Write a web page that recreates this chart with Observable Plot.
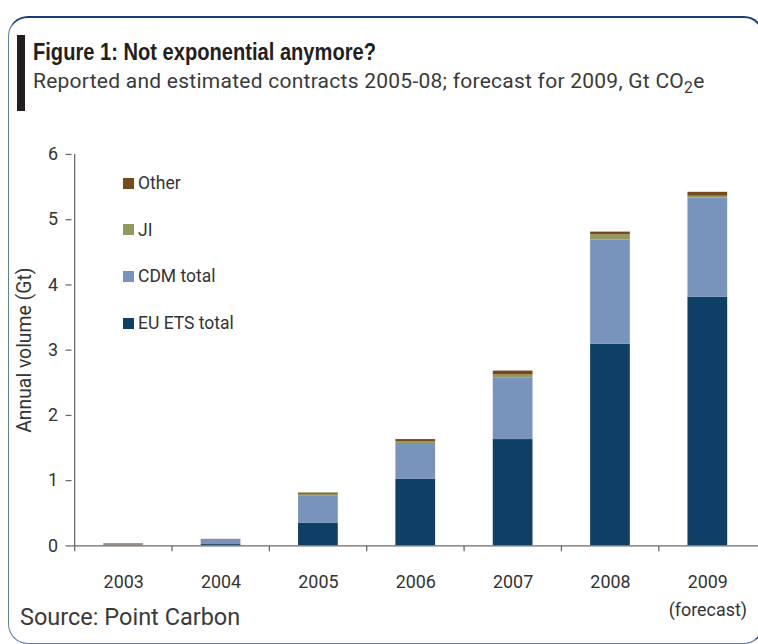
<!DOCTYPE html>
<html>
<head>
<meta charset="utf-8">
<script src="https://cdn.jsdelivr.net/npm/d3@7"></script>
<script src="https://cdn.jsdelivr.net/npm/@observablehq/plot@0.6"></script>
<style>
  body { margin: 0; background: #fff; }
  #wrap { position: relative; width: 758px; height: 644px; overflow: hidden;
          font-family: Roboto, "Liberation Sans", sans-serif; color: #333; }
  .frame { position: absolute; left: 8px; top: 16px; width: 756px; height: 628px;
           border-top: 2px solid #173f77; border-left: 1.5px solid #5f7ea8;
           border-bottom: 1.5px solid #5f7ea8; border-right: 2px solid #173f77;
           border-radius: 20px; box-sizing: border-box; }
  .marker { position: absolute; left: 17px; top: 35px; width: 8px; height: 76px; background: #231f20; }
  .title { position: absolute; left: 33px; top: 39px; font-family: "Liberation Sans", Arial, sans-serif;
           font-weight: bold; font-size: 23px; color: #231f20; white-space: nowrap; transform-origin: 0 0; }
  .subtitle { position: absolute; left: 33px; top: 69px; font-size: 21px; letter-spacing: 0.25px; color: #3a3a3a; white-space: nowrap; }
  .subtitle sub { font-size: 0.75em; vertical-align: -0.3em; }
  #chart { position: absolute; left: 0; top: 0; }
  #legend { position: absolute; left: 123px; top: 172px; font-size: 17.5px; color: #333; }
  #legend .item { display: flex; align-items: center; height: 22px; margin-bottom: 24.7px; white-space: nowrap; }
  #legend .sw { width: 11px; height: 11px; margin-right: 4px; }
  .source { position: absolute; left: 20px; top: 603px; font-size: 23.5px; color: #3a3a3a; white-space: nowrap; }
</style>
</head>
<body>
<div id="wrap">
  <div class="frame"></div>
  <div class="marker"></div>
  <div class="title" id="title">Figure 1: Not exponential anymore?</div>
  <div class="subtitle">Reported and estimated contracts 2005-08; forecast for 2009, Gt CO<sub>2</sub>e</div>
  <div id="chart"></div>
  <div id="legend"></div>
  <div class="source">Source: Point Carbon</div>
</div>
<script>
// Annual traded volume by market segment, Gt CO2e
const years = ["2003", "2004", "2005", "2006", "2007", "2008", "2009"];
const yearLabels = ["2003", "2004", "2005", "2006", "2007", "2008", "2009\n(forecast)"];
const euEts = [0.0, 0.02, 0.35, 1.02, 1.63, 3.09, 3.81];
const cdm = [0.015, 0.065, 0.41, 0.55, 0.94, 1.60, 1.52];
const ji = [0.0, 0.005, 0.03, 0.03, 0.05, 0.08, 0.03];
const other = [0.015, 0.01, 0.02, 0.03, 0.06, 0.04, 0.06];
const seriesNames = ["EU ETS total", "CDM total", "JI", "Other"];
const seriesColors = ["#0e4066", "#7994bc", "#93995c", "#754b1e"];
const yTicks = [0, 1, 2, 3, 4, 5, 6];
const yLabel = "Annual volume (Gt)";

const seriesValues = [euEts, cdm, ji, other];
const rows = years.flatMap((year, i) =>
  seriesNames.map((series, j) => ({year, series, value: seriesValues[j][i]}))
);

const width = 763, marginLeft = 72, marginRight = 0;
const step = (width - marginLeft - marginRight) / years.length;
const axisGrey = "#6b6b6b";

const chart = Plot.plot({
  width,
  height: 644,
  marginTop: 155,
  marginBottom: 95,
  marginLeft,
  marginRight,
  style: {fontFamily: "Roboto, 'Liberation Sans', sans-serif", background: "transparent", overflow: "visible"},
  x: {domain: years, paddingInner: 0.595, paddingOuter: 0.2975, align: 0.5, axis: null},
  y: {domain: [0, 6], axis: null},
  color: {domain: seriesNames, range: seriesColors},
  marks: [
    Plot.barY(rows, {x: "year", y: "value", fill: "series"}),
    // category separators below the baseline
    Plot.axisX({tickSize: 6, tickFormat: () => "", dx: -step / 2, stroke: axisGrey, strokeWidth: 1.3, label: null}),
    Plot.ruleY([0], {stroke: axisGrey, strokeWidth: 1.3}),
    Plot.ruleX([years[0]], {x: d => d, y1: 0, y2: 6, dx: -step / 2, stroke: axisGrey, strokeWidth: 1.3}),
    Plot.axisY({ticks: yTicks, tickSize: 6, tickFormat: () => "", stroke: axisGrey, strokeWidth: 1.3, label: null}),
    Plot.text(yTicks, {y: d => d, text: d => String(d), frameAnchor: "left", dx: -14, textAnchor: "end",
      fontSize: 18, fill: "#333"}),
    Plot.text(years, {x: d => d, text: (d, i) => yearLabels[i], frameAnchor: "bottom", dy: 23,
      lineAnchor: "top", lineHeight: 1.55, fontSize: 18, fill: "#333"}),
    Plot.text([yLabel], {frameAnchor: "left", textAnchor: "middle", rotate: -90, dx: -48, fontSize: 19.5, fill: "#333"})
  ]
});
document.getElementById("chart").appendChild(chart);

// Condensed headline: squeeze the bold face to its set width
const title = document.getElementById("title");
title.style.transform = `scaleX(${343 / title.getBoundingClientRect().width})`;

// Legend, top series first
const legend = d3.select("#legend");
seriesNames.slice().reverse().forEach(name => {
  const item = legend.append("div").attr("class", "item");
  item.append("div").attr("class", "sw").style("background", seriesColors[seriesNames.indexOf(name)]);
  item.append("span").text(name);
});
</script>
</body>
</html>
